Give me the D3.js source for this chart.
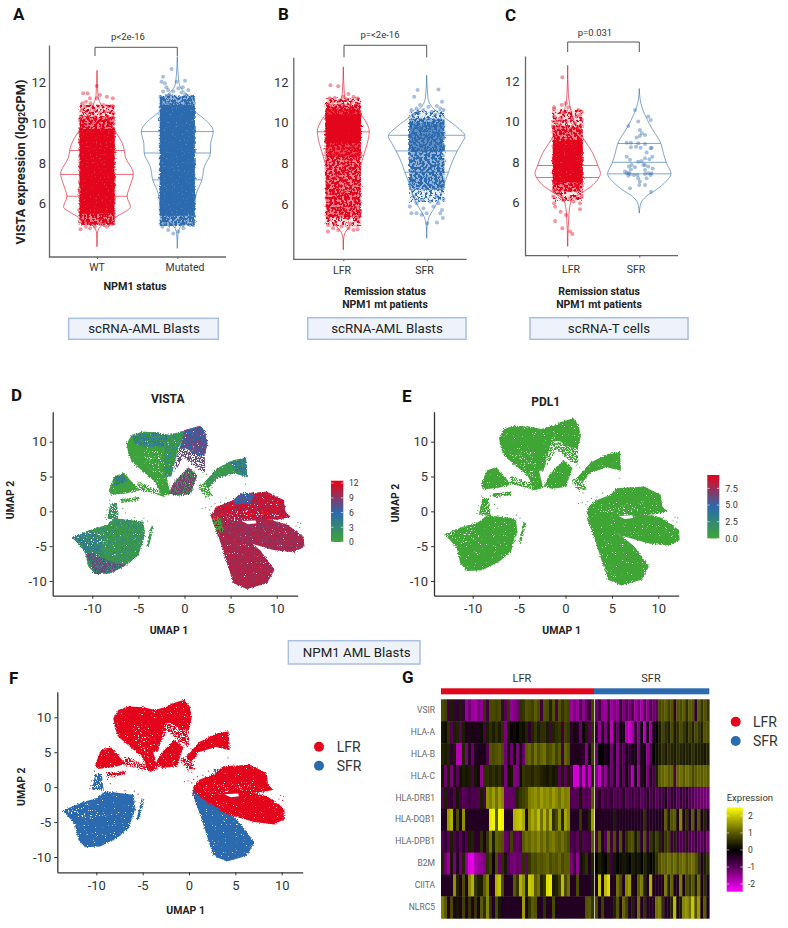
<!DOCTYPE html>
<html><head><meta charset="utf-8">
<script src="https://cdn.jsdelivr.net/npm/d3@7/dist/d3.min.js"></script>
<style>html,body{margin:0;padding:0;background:#fff}svg{display:block}text{font-family:Roboto,sans-serif}</style>
</head><body><svg id="c" width="788" height="928"></svg>
<script>
// ---------- violin densities [value, relative width]
const vioAWT=[[12.6,0],[11.3,.03],[10.8,.14],[10.3,.28],[9.73,.46],[8.83,.73],[8.33,.78],[7.47,1],[6.93,.92],[6.35,.83],[5.85,.92],[5.52,.69],[5.28,.46],[4.86,.09],[4.53,.01],[3.87,0]];
const vioAMut=[[13.28,0],[11.96,.05],[11.55,.18],[11.3,.35],[10.56,.5],[10.15,.78],[9.57,1],[8.99,.93],[8.51,.92],[7.83,.75],[7.16,.68],[6.51,.53],[5.85,.48],[5.36,.41],[4.86,.09],[4.53,.02],[3.79,0]];
const vioBLFR=[[12.75,0],[11.44,.04],[10.95,.19],[10.46,.64],[10.13,.83],[9.56,1],[8.98,.92],[8.41,.79],[7.84,.67],[7.18,.64],[6.2,.64],[5.38,.58],[4.97,.32],[4.56,.06],[4.23,.01],[3.74,0]];
const vioBSFR=[[12.34,0],[11.28,.03],[10.79,.13],[10.3,.43],[9.8,.78],[9.34,1],[8.98,.91],[8.61,.8],[8,.65],[7.56,.57],[6.85,.43],[6.36,.35],[5.87,.22],[5.38,.07],[4.89,.01],[4.31,0]];
const vioCLFR=[[12.79,0],[11.39,.02],[10.57,.1],[9.75,.26],[9.1,.51],[8.44,.77],[7.84,.92],[7.46,1],[7.21,.94],[6.8,.71],[6.48,.41],[6.15,.12],[5.49,.04],[3.85,0]];
const vioCSFR=[[11.64,0],[11.07,.03],[10.41,.16],[9.75,.37],[8.93,.68],[8.44,.76],[7.95,.86],[7.43,1],[7.05,.84],[6.64,.53],[6.31,.21],[5.98,.05],[5.49,0]];
// quartiles
const quAWT=[8.63,7.45,6.37], quAMut=[9.57,8.51,7.18], quBLFR=[9.55,8.4], quBSFR=[9.38,8.61,7.56], quCLFR=[7.84,7.25], quCSFR=[8.93,8.0,7.43];
// dense part of each strip [from, to, density]
const bandAWT=[[4.95,5.5,1],[5.5,9.7,2],[9.7,10.3,1],[10.3,10.9,0]];
const bandAMut=[[4.9,5.4,1],[5.4,10.9,2],[10.9,11.35,1]];
const bandBLFR=[[4.9,5.3,0],[5.3,10.9,1],[8.3,10.7,1],[9,10.4,2],[10.9,11.2,0]];
const bandBSFR=[[6.7,10.2,1],[8.6,10,1],[10.2,10.6,0],[6.1,6.7,0]];
const bandCLFR=[[7,9.1,2],[6.55,7,1],[9.1,9.8,1],[9.8,10.6,0],[6.1,6.55,0]];
const bandCSFR=[];
// individually visible cells [jitter -1..1, value]
const ptsAWT=[[-.79,11.47],[-.54,11.47],[-.4,11.22],[-.02,11.83],[.17,11.38],[.56,11.3],[.9,11.22],[-.83,10.97],[-.63,11.05],[-.37,10.97],[-.15,10.64],[.08,10.81],[.37,10.89],[.65,10.81],[.85,10.81],[-.88,10.64],[-.6,10.56],[-.31,10.48],[.17,10.48],[.46,10.56],[.75,10.56],[.94,10.48],[-.02,11.22],[-.69,10.81],[-.88,10.31],[-.5,10.31],[-.12,10.31],[.6,10.31],[.9,10.28],[-.94,4.73],[-.63,4.86],[-.4,4.78],[-.12,4.86],[.17,5],[.56,4.86],[.85,5],[-.79,5.03],[-.5,5.06],[.37,5.06],[-.25,5]];
const ptsAMut=[[-.33,12.67],[-.81,12.29],[-.9,12.04],[-.71,11.96],[-.04,12.04],[.44,12.09],[-.96,11.3],[-.52,11.63],[-.23,11.55],[.25,11.5],[.63,11.63],[.83,11.3],[-.81,11.55],[-.42,11.38],[.06,11.71],[.44,11.38],[-.62,11.76],[.31,11.76],[-.85,4.86],[-.52,4.7],[-.23,4.53],[.06,4.62],[.35,4.78],[.73,4.95],[-.71,5.03],[-.33,5],[.25,5.03],[.92,5.06]];
const ptsBLFR=[[-.73,11.84],[-.29,11.8],[.29,11.41],[.58,11.28],[.81,11.2],[-.77,11.2],[-.48,11.23],[0,11.28],[-.19,11.11],[-.87,10.95],[-.58,11.03],[.48,11.03],[.77,10.95],[.19,11.15],[-.87,4.64],[-.58,4.8],[-.29,4.72],[-.1,4.89],[.29,4.8],[.58,4.72],[.81,4.75],[-.87,4.97],[-.48,5.05],[.38,5.02],[.87,5.13]];
const ptsBSFR=[[-.52,11.61],[.67,11.64],[-.71,11.28],[.87,11.03],[-.38,10.87],[.1,10.79],[.58,10.82],[-.87,10.62],[-.58,10.7],[-.19,10.62],[.29,10.54],[.77,10.7],[.96,10.62],[-.77,10.38],[-.48,10.46],[.48,10.38],[-.87,5.54],[-.58,5.54],[-.29,5.46],[0,5.54],[-.96,5.87],[-.58,6.03],[-.19,5.79],[.38,5.87],[.67,6.03],[.96,6.2],[.77,5.54],[.92,5.3],[.04,5.05],[.58,5.08],[-.73,6.36],[-.29,6.2],[.19,6.11],[.58,6.36],[.87,5.7]];
const ptsCLFR=[[-.36,12.2],[-.13,10.91],[-.4,10.83],[-.91,10.72],[-.91,10.62],[.04,10.72],[.71,10.58],[.93,10.5],[.82,10.34],[-.89,10.26],[-.29,10.42],[.16,10.42],[-.18,10.5],[.27,10.17],[.6,10.26],[.93,10.09],[-.96,10.01],[-.73,10.01],[-.51,10.17],[-.96,9.76],[-.62,9.84],[-.07,10.01],[.49,9.93],[.87,9.84],[-.91,5.98],[-.84,5.81],[-.47,5.56],[-.11,5.4],[-.84,5.1],[-.36,4.74],[.16,4.58],[.31,4.46],[.82,5.68],[.82,5.98],[.38,6.06],[-.29,6.14],[-.4,6.3],[.16,6.22],[.6,6.22],[-.96,6.3],[-.62,6.47],[.93,6.3]];
const ptsCSFR=[[-.29,10.58],[-.07,10.01],[-.73,9.79],[.6,10.26],[.76,10.09],[.04,9.6],[-.18,9.23],[.04,9.3],[.16,9.43],[.38,9.35],[-.84,8.97],[-.56,8.97],[-.07,8.94],[.38,8.9],[.82,8.72],[-.56,8.74],[-.22,8.77],[.09,8.72],[.87,8.28],[.76,8.69],[.49,8.48],[-.84,8.28],[-.62,8.12],[-.07,8.03],[.16,8.07],[.38,8.2],[.67,8.15],[.27,7.87],[.38,7.87],[.6,7.79],[-.51,7.87],[-.69,7.79],[-.29,7.75],[-.56,7.65],[-.71,7.49],[-.84,7.46],[-.96,7.54],[-.62,7.42],[-.36,7.37],[-.13,7.37],[.38,7.62],[.38,7.42],[.6,7.46],[.76,7.37],[.89,7.7],[.82,7.46],[-.73,7.33],[.04,7.05],[0,6.88],[.38,6.88],[-.62,6.72],[.78,6.55],[-.07,7.21],[.49,7.21]];
const catsA=["WT","Mutated"], catsB=["LFR","SFR"], catsC=["LFR","SFR"];
const yTicks=[6,8,10,12];
const pLabels=["p<2e-16","p=<2e-16","p=0.031"];
// ---------- UMAP cluster outlines (panel D frame)
const polyT1=[[-6.27,9.76],[-5.72,10.96],[-4.64,11.44],[-3.01,11.34],[-1.74,10.96],[-1.92,8.09],[-2.0,5.22],[-1.5,2.5],[-2.4,2.2],[-3.19,4.26],[-4.46,5.69],[-5.72,7.13],[-6.09,8.33]];
const polyT1rim=[[-5.72,10.96],[-3.01,11.34],[-1.74,10.96],[-2.28,9.28],[-4.46,9.28],[-5.54,9.76]];
const polyT2=[[-1.74,10.96],[-.47,11.44],[.25,11.67],[-.65,9.04],[-1.45,4.98],[-2.1,4.98],[-2.28,7.13],[-2.1,9.52]];
const polyT3=[[.07,11.67],[1.7,12.3],[2.25,11.44],[2.5,9.76],[2.2,8],[1.34,8.1],[.25,9.0],[-.55,9.0]];
const polyT3s=[[-.65,9.1],[2.2,8.2],[2.24,5.6],[1.34,6.2],[-.11,7.85],[-1.1,5.5]];
const polyM=[[-1.1,4.26],[.43,6.3],[1.4,5.22],[.7,2.5],[-.83,2.25],[-1.7,2.6]];
const polyLink=[[-5,4.26],[-2.1,2.82],[-2.1,2.1],[-5,3.06]];
const polyLS=[[-8.2,3.06],[-7.6,5.05],[-6.55,5.55],[-5.9,4.5],[-4.9,3.06],[-6.27,2.6],[-8,2.35]];
const polyLStop=[[-7.54,4.98],[-6.63,5.45],[-6.2,4.35],[-7.72,3.54]];
const polyTail=[[-7,1.75],[-4.82,2.1],[-5,1.55],[-6.81,1.2]];
const polyStem=[[-8,1.2],[-7.3,1.2],[-7.1,-1.1],[-8.4,-1.1]];
const polyLL=[[-12.17,-3.78],[-10.25,-2.68],[-8.44,-1.96],[-7.54,-1],[-4.46,-1.48],[-4.28,-3.4],[-5,-6.27],[-6.27,-7.7],[-8.08,-8.9],[-9.71,-9],[-10.43,-7.94],[-10.8,-5.79],[-11.52,-4.59]];
const polyLLlow=[[-10.8,-5.79],[-9.71,-9],[-8.08,-8.9],[-6.27,-7.7],[-7.54,-7.46],[-9.17,-6.5]];
const polyLLleft=[[-12.17,-3.78],[-11.52,-4.59],[-10.8,-5.79],[-9.17,-6.5],[-8.99,-3.88],[-10.25,-2.68]];
const polySliver=[[-4.15,-5.07],[-3.6,-2],[-3.3,-2.2],[-3.85,-4.93]];
const polyUR=[[2.07,4.02],[3.51,6.17],[5.33,7.37],[6.67,7.7],[6.78,4.98],[5.33,5.45],[3.51,4.74],[2.61,3.3]];
const polyURtop=[[4.96,7.03],[6.67,7.7],[6.78,4.98],[5.51,5.69]];
const polyURs=[[1.52,3.78],[2.43,4.02],[3.15,2.25],[2.07,2.25]];
const polyRU=[[2.79,-.53],[3.51,.67],[5.33,1.63],[6.05,2.58],[8.95,2.82],[10.76,1.63],[10.94,-.05],[11.49,-.77],[10.04,-1.2],[7.5,-1.2],[5.33,-1.6],[3.51,-2.44]];
const polyRUtop=[[5.33,1.63],[6.05,2.58],[7.68,2.49],[7.14,1.15],[5.33,1]];
const polyRMid=[[2.97,-1.0],[5.33,-1.0],[8.95,-1.1],[11.12,-1.9],[12.93,-3.64],[13,-5.07],[11.85,-5.89],[9.67,-5.55],[7.14,-4.59],[4.96,-3.4],[3.51,-2.92]];
const polyRB=[[2.97,-1.2],[3.51,-1.9],[4.96,-2.6],[6.78,-4.0],[8.2,-5.6],[9.75,-8.42],[8.95,-10.33],[6.78,-11.15],[5.33,-10.33],[4.67,-7.7],[3.88,-4.35]];
const polyRleft=[[2.79,-.53],[3.88,-.77],[4.31,-2.92],[3.51,-2.92]];
const polyFBlue=[[5.03,2.23],[7.9,1.75],[7.18,.55],[5.4,1.03]];
const polyFBlue2=[[6.6,-1.4],[8.4,-1.2],[8.2,-2.2],[7,-2.4]];
const polyFBlue3=[[3.1,-1],[4.7,-2.7],[6.2,-3.7],[4.2,-5]];
const holeR=[[6.2,-1.4],[7.7,-1.3],[7.8,-1.7],[6.9,-1.85]];
const flecksT=[[-4.46,8.56],[-2.28,8.56],[-2.28,3.78],[-3.37,4.74]];
const flecksR=[[3.88,-.53],[7.5,.43],[10.76,-.77],[5.33,-1.5]];
const flecksL=[[-12,-3.8],[-9,-2.6],[-8,-4.5],[-10,-5]];
// region table: polygon, cluster, density, VISTA base, VISTA mix, NPM1 group, panels
const regions=[
 [polyT3s,"T3",0,8,8,"L","DEF"],[polyLink,"T1",0,0,0,"L","DEF"],[polyTail,"LS",1,0,0,"L","DEF"],[polyStem,"ST",1,2,5,"S","DEF"],[polySliver,"LL",1,1,8,"S","DEF"],[polyURs,"UR",0,0,0,"L","DEF"],
 [polyT1,"T1",2,.5,0,"L","DEF"],[polyT2,"T1",2,3,.3,"L","DEF"],[polyT3,"T3",2,8,6,"L","DEF"],[polyM,"M",2,8.5,1.5,"L","DEF"],[polyLS,"LS",2,0,1,"L","DEF"],[polyLL,"LL",2,1,3,"S","DEF"],[polyUR,"UR",2,1,2,"L","DEF"],
 [polyRB,"RB",2,9.8,10.6,"S","DEF"],[polyRU,"RU",2,10,12,"L","DEF"],[polyRMid,"RM",2,10.3,9,"L","DEF"],
 [polyT1rim,"T1",2,4.5,1,"L","D"],[polyLStop,"LS",2,5,2,"L","D"],[polyLLleft,"LL",2,4.5,2,"S","D"],[polyLLlow,"LL",2,8,3,"S","D"],[polyURtop,"UR",2,5,2,"L","D"],[polyRUtop,"RU",2,6,8,"L","D"],[polyRleft,"RM",2,.5,11,"L","D"],
 [polyFBlue,"RU",1,0,0,"S","F"],[polyFBlue2,"RU",0,0,0,"S","F"],[polyFBlue3,"RB",2,0,0,"S","F"]
];
const clusterShiftE={T1:[-.9,.85],T3:[-.85,1.05],M:[-.65,1],LS:[-.9,.8],ST:[-.95,.6],LL:[-.9,.45],UR:[-.8,.85],RU:[-.5,.75],RM:[-.7,.95],RB:[-.75,.5]};
const clusterShiftF={T1:[-1.9,.1],T3:[-2.2,.2],M:[-2,.5],LS:[-1.9,.25],ST:[-2.1,.7],LL:[-1.5,.4],UR:[-2.4,.3],RU:[-2.4,.4],RM:[-2.65,.55],RB:[-2.7,.5]};
const clusterShiftD={T1:[0,0],T3:[0,0],M:[0,0],LS:[0,0],ST:[0,0],LL:[0,0],UR:[0,0],RU:[0,0],RM:[0,0],RB:[0,0]};
const strayCells=[[1.6,3.2,"UR"],[1.9,2.9,"UR"],[2.3,2,"UR"],[2.7,1.8,"UR"],[3,3.4,"UR"],[2.9,.7,"RU"],[2.3,.5,"RU"],[1.9,.4,"RU"],[2.7,.2,"RU"],[3.3,1.1,"RU"],[3.9,1.3,"RU"],[4.5,1.9,"RU"],[4.2,.9,"RU"],[12.3,-1.6,"RU"],[12.6,-1.7,"RU"],[12.5,-2.3,"RU"],[12.1,-2.1,"RU"],[6.6,3.9,"UR"],[-8.5,-.5,"ST"],[-8.6,-.9,"ST"],[-8.4,.2,"ST"],[-8.1,1.6,"ST"],[-6.7,.4,"ST"],[-6.4,-.2,"ST"],[-5.4,-.9,"LL"],[-4.4,-1,"LL"],[-4,-1.4,"LL"],[2,5.6,"T3"],[2.4,5.3,"T3"]];
const pdlRedCells=[[-8.9,2],[-8.6,1.1],[-7.3,-4.8],[-7.3,-7.3],[6.6,-6.9],[8,-7.4],[4.9,7.4],[-8.1,2.2],[-1.4,11.8]];
const vistaDomain=[0,6,12], pdlDomain=[0,4.7,9.4], vistaTicks=[0,3,6,9,12], pdlTicks=[0,2.5,5,7.5], umapTicks=[-10,-5,0,5,10];
// ---------- heatmap
const genes=["VSIR","HLA-A","HLA-B","HLA-C","HLA-DRB1","HLA-DQB1","HLA-DPB1","B2M","CIITA","NLRC5"];
const heatLFR=[
[.8,.7,-.7,.3,-.6,-.5,.3,-.6,-1.6,-1.2,-1.6,-1.7,-1.2,-1.5,.6,-.7,.8,.8,.7,.8,.3,-1,.6,-1.5,-1.4,-1.2,.5,.6,.9,.8,.7,1,.8,-.7,.9,.8,.4,.9,-.8,.9,.6,.8,.7,-1.6,-1.3,-1.6,-.8,-1.5,-1,-.7,.7],
[.2,.1,.5,-.9,.3,.4,-1,.3,-.3,-.4,.1,-.3,-.4,.1,-.8,.3,.5,.3,.5,.3,.5,-1.3,.3,-.1,.1,0,.2,.1,.4,-.5,.4,.6,.3,.5,.5,.3,-.8,.4,.5,.6,-.7,.7,.6,-.5,.1,-.4,-1.1,-.1,.3,-.9,.5],
[.4,.3,.4,-.5,.3,-1.8,-1.8,.4,-1.3,-.4,-1.1,-.4,-.3,-.3,-.2,-.9,.9,.8,.9,1,.8,-1.2,-.3,-1.2,.1,-1.3,-.3,-1.1,1,1.1,.8,1.2,.9,1.1,1.2,.8,.9,1.1,.7,1,-.7,1.1,.9,-.4,-.4,-.3,-.4,-.5,-1.4,-.2,.7],
[.2,-1.2,.3,-1.3,.2,-1,.1,.3,.2,.3,-.8,.2,.1,-1.5,.5,.5,.4,.5,.4,.5,.3,-1.3,.1,.2,-1.4,-1.3,.1,.6,.5,.5,.4,.6,.5,.4,.3,.2,.4,.2,.3,-1,.3,-1,.3,-.8,-2.1,-2.1,-.8,-2,-.8,-1.9,.4],
[-.9,.3,-.7,-.5,-.9,.2,-.7,-1,-.9,-.7,-.9,-.8,-.9,.3,-.8,1.5,1.3,1.6,1.2,1.6,1.4,-1.1,-1.1,-1.1,-1,.4,.6,.7,.8,1.3,1.4,1.5,1.3,1.6,1.4,1.5,1.3,1.6,1.4,1.2,1.5,1.3,1.4,-.9,-1,-.9,.2,-1,-.9,-1,1],
[-.4,-.3,1.6,1.8,-.3,.8,-.3,1.5,-.4,-.4,-.4,-.4,-.4,-.4,-.4,-.4,2.3,2.4,1,2.5,2.4,-.4,-.4,-.4,1.8,1.9,2,1.7,-.3,1.4,1.7,1.5,1.9,1.2,1.8,1.2,1.8,.5,.8,1.5,.4,1.7,1.4,-.4,-.4,-.4,.6,-.4,-.4,.4,1.6],
[-.9,-.6,-1,.3,-.9,-.6,-1,-.5,-.9,.3,.4,-.5,-.5,.5,-.4,.6,1.2,.3,1.1,1,.9,-1.1,-.9,.7,-1,-1.1,-.8,1,1.2,1.1,1.3,1.2,1.4,1.1,1.3,1,1.2,1.3,1.1,1,1.2,1,.8,-.9,-.7,-1,.3,-.9,-.8,-.7,1],
[.4,-1.2,-1.6,.2,-1.3,-.4,-1.2,.4,-1.5,-2.2,-2.3,-1.7,-1.6,-1.5,-1.3,.5,.7,-.1,.8,-1.1,.5,.2,-1,-1.2,-1.3,-1.1,-1.2,.5,-1.1,.6,.9,.8,1,.9,1,1.1,.8,1,.9,1.1,.8,1,1,-1.3,-.6,-1.5,-.3,.3,.5,-.3,.4],
[-.4,-.4,-.4,-.4,1.5,.4,-.4,.8,-.4,1.4,1.8,.6,.3,.3,1,1.4,-.4,-.4,1.8,2,.8,-.4,-.4,-.4,1,.6,1.8,1.5,.4,2,1.9,1,1.2,.4,.6,2.2,2.3,.3,.4,.7,1.9,.8,1.2,-.4,-.4,.8,-.4,-.4,-.4,-.4,.3],
[1.3,1,-.4,.8,-.4,.2,-.4,.7,-.4,.6,-.4,.6,-.3,1,.5,1.4,.5,-.4,.8,.2,-.4,-.4,-.4,-.4,-.4,-.4,-.4,1.6,-.4,.6,1,.9,-.4,-.4,.5,-.4,-.4,.8,-.4,-.4,-.4,-.4,-.4,-.4,-.4,-.4,-.4,-.4,.9,1,.6]];
const heatSFR=[
[-1.2,-.8,-1.5,-1.6,-.7,-1.6,-1.3,-1.5,-.6,-1.3,-.9,-1.3,-.8,-1.6,-1.2,-1.7,-.9,-1.5,-.8,-1.2,-1,.8,.9,1,.7,.9,-.6,.9,.8,1,.5,1,.9,-.5,1,.6,.9,.6],
[-.6,-1.5,-.3,-1.3,-.2,-1.9,-.2,-1.1,-.1,-.3,-1.7,-2,-1.6,-.6,-1.4,-.2,-1.9,-.3,-1.6,-.3,.05,.3,.7,.5,.3,.8,.3,.5,.8,.6,.3,.7,.4,.8,.6,.4,.9,.8],
[-1.2,0,.05,-.3,-.1,-1.2,-.1,-1.4,-.4,-1,-.3,-.6,-.2,-.3,-1.3,-.2,-.1,-1.5,-.9,0,.1,.3,.5,.3,.5,.4,.3,.5,.4,.3,.4,.3,.5,.3,.4,.3,.2,.4],
[-1.4,-2,-.8,-1.5,-.5,-1.2,-.2,-1.4,-.2,-1,-.1,-.9,-1.8,-.2,-1.6,-.3,-.1,-1.3,-.3,-.8,.3,1,1.1,1.2,1,1.1,-.9,1.1,1.2,1,1.2,1.1,.8,1,1.1,1,1.1,1],
[-.9,-.5,-1,-.7,-.9,-.6,-1,-.8,-.9,-.5,-1,-.8,-.7,-.9,-.6,-1,-.8,-.5,-.9,-.6,-1,-.7,-.8,-.4,-1,-.6,-.5,-1,-.6,-.8,-.5,-.9,-.9,-1.1,-1.1,-1.2,-1.2,-1.3],
[-.4,-.4,-.4,-.4,-.4,-.4,.3,-.4,-.4,-.4,-.4,-.4,-.4,-.4,-.4,-.4,.5,-.4,-.4,-.4,-.4,-.4,-.4,1,.3,.9,1,-.3,1.4,-.3,.5,-.3,1,-.3,.9,-.3,.4,-.3],
[-.8,1,-.4,-.9,1,-.7,.8,-.5,.9,-.4,.5,.8,.9,.3,.7,-.4,.9,-.6,.6,.3,.7,.4,-.5,.6,.7,-.6,.4,-.7,-.9,-.8,.3,-.9,-1,-.7,-1,-1,-.7,-1.3],
[.05,.3,.1,.05,.4,-.6,.2,.05,.1,.2,.1,.05,.3,.1,.2,.05,.4,.1,.05,.1,.5,.9,1.1,1,1.2,1,1.2,.9,1.1,1.2,.9,1.1,1.2,.9,.5,-.3,.3,.5],
[-.4,2,-.3,1.9,2.2,-.3,-.4,1.2,.8,-.4,1.4,1.6,-.4,-.2,1,1.3,.4,-.3,1.8,-.4,-.4,-.4,-.4,1.3,.4,1.1,-.4,-.4,1.3,-.3,.8,.6,1,.4,1.2,-.3,.5,-.3],
[.8,-.3,.7,-.4,-.4,-.4,.4,.9,-.4,1.1,.7,-.4,.4,-.4,1.2,-.4,.5,-.4,-.4,-.4,1.2,1.3,.5,-.4,-.4,.4,1.9,-.3,.3,1.4,1.5,1.2,2,.9,1.6,-.3,1,-.3]];
const heatTicks=[-2,-1,0,1,2];

// ---------- page setup
const RED="#E3051B", BLUE="#2B6AAE", GREEN="#3FA535";
const svg=d3.select("#c"), defs=svg.append("defs");
function noiseFilter(id,seed,freq,disp,cut,blur){
  const f=defs.append("filter").attr("id",id).attr("filterUnits","userSpaceOnUse").attr("x",0).attr("y",0).attr("width",788).attr("height",928).attr("color-interpolation-filters","sRGB");
  f.append("feTurbulence").attr("type","fractalNoise").attr("baseFrequency",freq).attr("numOctaves",2).attr("seed",seed).attr("result","n");
  f.append("feDisplacementMap").attr("in","SourceGraphic").attr("in2","n").attr("scale",disp).attr("xChannelSelector","R").attr("yChannelSelector","G").attr("result","d");
  f.append("feColorMatrix").attr("in","n").attr("type","matrix").attr("values",`0 0 0 0 0 0 0 0 0 0 0 0 0 0 0 14 0 0 0 ${-cut*14}`).attr("result","m");
  f.append("feComposite").attr("in","d").attr("in2","m").attr("operator","in").attr("result","c");
  f.append("feGaussianBlur").attr("in","c").attr("stdDeviation",blur);
}
noiseFilter("u0",5,.8,5,.42,.3);
noiseFilter("u1",6,.8,4,.36,.3);
noiseFilter("u2",7,.9,3.5,.22,.25);
noiseFilter("uMix",11,1.2,2,.5,.4);
noiseFilter("uWhite",13,.7,3,.64,.3);
noiseFilter("s0",21,.4,3,.52,.3);
noiseFilter("s1",22,.4,3,.44,.3);
noiseFilter("s2",23,.5,3,.25,.2);
noiseFilter("rough",24,.35,7,-1,.4);
const soft=defs.append("filter").attr("id","soft"); soft.append("feGaussianBlur").attr("stdDeviation",.35);
const heatSoft=defs.append("filter").attr("id","heatSoft"); heatSoft.append("feGaussianBlur").attr("stdDeviation",.5);

function txt(g,x,y,s,o={}){
  return g.append("text").attr("x",x).attr("y",y).attr("text-anchor",o.a||"middle").attr("dominant-baseline","central")
    .attr("font-size",o.s||11).attr("font-weight",o.w||400).attr("fill",o.c||"#222").attr("font-family",o.f||"Roboto,sans-serif").text(s);
}
function box(x0,x1,y0,y1,label,cx){
  svg.append("rect").attr("x",x0).attr("y",y0).attr("width",x1-x0).attr("height",y1-y0).attr("fill","#EEF3FB").attr("stroke","#A9BFE4").attr("stroke-width",1.5);
  txt(svg,cx,(y0+y1)/2,label,{s:13.3,c:"#222"});
}
[["A",13,14],["B",278,14],["C",505,15],["D",11,395],["E",402,396],["F",9,678],["G",402,677]].forEach(d=>txt(svg,d[1],d[2],d[0],{a:"start",s:17,w:700,c:"#111"}));

// ---------- violin panels
const violinPanels=[
 {cats:catsA,xs:[97,177.3],lab:[97,185],labY:267,left:49,right:226,top:45,bot:257,y8:163.3,k:20.2,labX:46,
  br:[95,177.3,47.3,56],p:[128,36.7,pLabels[0]],
  v:[[vioAWT,quAWT,bandAWT,ptsAWT,36.3,17.5,RED],[vioAMut,quAMut,bandAMut,ptsAMut,36,17.5,BLUE]]},
 {cats:catsB,xs:[343.3,426.7],lab:[342,424.5],labY:270,left:293.3,right:466.7,top:57.3,bot:259.3,y8:163.3,k:20.3,labX:288.5,
  br:[344,426.7,45.3,57.3],p:[380,34,pLabels[1]],
  v:[[vioBLFR,quBLFR,bandBLFR,ptsBLFR,26,17.6,RED],[vioBSFR,quBSFR,bandBSFR,ptsBSFR,38.3,17.6,BLUE]]},
 {cats:catsC,xs:[567.7,639.3],lab:[571,636],labY:269,left:525,right:678,top:56,bot:255.7,y8:162.3,k:20.25,labX:519.5,
  br:[567.7,639.3,42,52],p:[595,32.7,pLabels[2]],
  v:[[vioCLFR,quCLFR,bandCLFR,ptsCLFR,32.7,15,RED],[vioCSFR,quCSFR,bandCSFR,ptsCSFR,31.7,15,BLUE]]}
];
const underLayer=svg.append("g").attr("filter","url(#rough)");
const bandLayers=[svg.append("g").attr("filter","url(#s0)"),svg.append("g").attr("filter","url(#s1)"),svg.append("g").attr("filter","url(#s2)")];
const underOpacity=[.12,.5,.8];
violinPanels.forEach(p=>{
  const y=d3.scaleLinear().range([p.bot,p.top]);
  y.domain([8-(p.bot-p.y8)/p.k,8+(p.y8-p.top)/p.k]);
  const gx=svg.append("g").attr("transform",`translate(0,${p.bot})`);
  const xp=d3.scalePoint().domain(p.cats).range(p.xs);
  gx.call(d3.axisBottom(xp).tickSize(2).tickSizeOuter(0).tickFormat(""));
  gx.select(".domain").attr("d",`M${p.left},0H${p.right}`).attr("stroke","#666").attr("stroke-width",1.3);
  gx.selectAll("line").attr("stroke","#666");
  p.cats.forEach((c,i)=>txt(svg,p.lab[i],p.labY,c,{s:10.5,c:"#333"}));
  const gy=svg.append("g").attr("transform",`translate(${p.left},0)`);
  gy.call(d3.axisLeft(y).tickValues(yTicks).tickSize(0).tickPadding(p.left-p.labX).tickFormat(d3.format("d")));
  gy.select(".domain").attr("stroke","#666").attr("stroke-width",1.3);
  gy.selectAll("text").attr("font-size",13).attr("fill","#333").attr("font-family","Roboto,sans-serif");
  svg.append("path").attr("d",`M${p.br[0]},${p.br[3]}V${p.br[2]}H${p.br[1]}V${p.br[3]}`).attr("fill","none").attr("stroke","#555").attr("stroke-width",1);
  txt(svg,p.p[0],p.p[1],p.p[2],{s:9.5,c:"#333"});
  p.v.forEach((d,i)=>{
    const [vio,qu,bands,pts,wPx,hw,col]=d, cx=p.xs[i];
    const w=d3.scaleLinear().domain([0,1]).range([0,wPx]);
    const wAt=d3.scaleLinear().domain(vio.map(e=>e[0])).range(vio.map(e=>e[1]));
    svg.selectAll(null).data(qu).enter().append("line")
      .attr("x1",q=>cx-w(wAt(q))).attr("x2",q=>cx+w(wAt(q))).attr("y1",q=>y(q)).attr("y2",q=>y(q))
      .attr("stroke",col).attr("stroke-opacity",.6).attr("stroke-width",1);
    bands.forEach(b=>{
      const rr=g=>g.append("rect").attr("x",cx-hw).attr("width",2*hw).attr("y",y(b[1])).attr("height",y(b[0])-y(b[1])).attr("fill",col);
      rr(underLayer).attr("fill-opacity",underOpacity[b[2]]);
      rr(bandLayers[b[2]]);
    });
    const jx=d3.scaleLinear().domain([-1,1]).range([cx-hw,cx+hw]);
    svg.selectAll(null).data(pts).enter().append("circle").attr("cx",e=>jx(e[0])).attr("cy",e=>y(e[1])).attr("r",2)
      .attr("fill",col).attr("fill-opacity",.42);
    const area=d3.area().y(e=>y(e[0])).x0(e=>cx-w(e[1])).x1(e=>cx+w(e[1])).curve(d3.curveMonotoneY);
    svg.append("path").attr("class","vio").attr("d",area(vio)).attr("fill","none").attr("stroke",col).attr("stroke-opacity",.6).attr("stroke-width",1);
  });
});
underLayer.raise(); bandLayers.forEach(g=>g.raise());
svg.selectAll("path.vio").raise();
const yt=svg.append("text").attr("transform","translate(20,162) rotate(-90)").attr("text-anchor","middle").attr("dominant-baseline","central").attr("font-size",12.8).attr("font-weight",700).attr("fill","#222");
yt.append("tspan").text("VISTA expression (log");
yt.append("tspan").attr("font-size",8.5).attr("dy",2).text("2");
yt.append("tspan").attr("dy",-2).text("CPM)");
txt(svg,135,286,"NPM1 status",{s:10.8,w:700});
[[385,291,304],[599,291,304]].forEach(d=>{txt(svg,d[0],d[1],"Remission status",{s:10.5,w:700});txt(svg,d[0],d[2],"NPM1 mt patients",{s:10.5,w:700});});
box(68.7,218.3,318.3,339.3,"scRNA-AML Blasts",144);
box(307.7,466,317.7,339.3,"scRNA-AML Blasts",387);
box(530,688,317.7,339.3,"scRNA-T cells",609);
box(288.3,420,640.7,664,"NPM1 AML Blasts",356.7);

// ---------- UMAP panels
const vistaColor=d3.scaleLinear().domain(vistaDomain).range([GREEN,BLUE,RED]);
const pdlColor=d3.scaleLinear().domain(pdlDomain).range([GREEN,BLUE,RED]);
const groupColor=d3.scaleOrdinal().domain(["L","S"]).range([RED,BLUE]);
const umapPanels=[
 {id:"D",x0:[92.3,276.7],y0:[581,441.7],l:52.7,r:297.7,t:411.7,b:595.7,shift:clusterShiftD,base:r=>vistaColor(r[3]),mix:r=>vistaColor(r[4]),title:"VISTA",tx:167.7,ty:399,ux:169,uy:630.7,vx:10,vy:500},
 {id:"E",x0:[472.7,658.3],y0:[581,441.7],l:434,r:678.7,t:411.7,b:595.7,shift:clusterShiftE,base:()=>pdlColor(0),mix:()=>pdlColor(0),title:"PDL1",tx:545.7,ty:401.5,ux:561.7,uy:630.7,vx:395,vy:503},
 {id:"F",x0:[96.3,281.7],y0:[857,717.3],l:57.3,r:302.7,t:691.7,b:872.3,shift:clusterShiftF,base:r=>groupColor(r[5]),mix:r=>groupColor(r[5]),title:null,ux:185.7,uy:910.7,vx:21,vy:786.7}
];
umapPanels.forEach(p=>{
  const bx=d3.scaleLinear().domain([-10,10]).range(p.x0), by=d3.scaleLinear().domain([-10,10]).range(p.y0);
  const x=d3.scaleLinear().domain([bx.invert(p.l),bx.invert(p.r)]).range([p.l,p.r]);
  const y=d3.scaleLinear().domain([by.invert(p.b),by.invert(p.t)]).range([p.b,p.t]);
  const line=d3.line().x(e=>e[0]).y(e=>e[1]);
  const path=(poly,cl)=>{const s=p.shift[cl];return line(poly.map(e=>[x(e[0]+s[0]),y(e[1]+s[1])]))+"Z";};
  const rows=regions.filter(r=>r[6].includes(p.id));
  [0,1,2].forEach(dn=>{
    svg.append("g").attr("filter",`url(#u${dn})`).selectAll("path").data(rows.filter(r=>r[2]===dn)).enter().append("path")
      .attr("d",r=>path(r[0],r[1])).attr("fill",p.base);
  });
  if(p.id==="D"){
    svg.append("g").attr("filter","url(#uMix)").selectAll("path").data(rows.filter(r=>r[2]===2&&r[3]!==r[4])).enter().append("path")
      .attr("d",r=>path(r[0],r[1])).attr("fill",p.mix);
  }
  svg.append("g").attr("filter","url(#uWhite)").selectAll("path").data([[flecksT,"T1"],[flecksR,"RU"],[flecksL,"LL"]]).enter().append("path")
    .attr("d",r=>path(r[0],r[1])).attr("fill","#fff");
  svg.append("path").attr("d",path(holeR,"RU")).attr("fill","#fff").attr("filter","url(#soft)");
  const strayColor=p.id==="D"?vistaColor(1):(p.id==="E"?pdlColor(0):RED);
  svg.selectAll(null).data(strayCells).enter().append("circle")
    .attr("cx",e=>x(e[0]+p.shift[e[2]][0])).attr("cy",e=>y(e[1]+p.shift[e[2]][1])).attr("r",.6).attr("fill",strayColor);
  if(p.id==="E") svg.selectAll(null).data(pdlRedCells).enter().append("circle").attr("cx",e=>x(e[0])).attr("cy",e=>y(e[1])).attr("r",.7).attr("fill","#B5455A");
  const gx=svg.append("g").attr("transform",`translate(0,${p.b})`).call(d3.axisBottom(x).tickValues(umapTicks).tickSize(3).tickSizeOuter(0).tickPadding(5).tickFormat(d3.format("d")));
  const gy=svg.append("g").attr("transform",`translate(${p.l},0)`).call(d3.axisLeft(y).tickValues(umapTicks).tickSize(3).tickSizeOuter(0).tickPadding(3).tickFormat(d3.format("d")));
  [gx,gy].forEach(g=>{g.selectAll("text").attr("font-size",13).attr("fill","#333").attr("font-family","'Liberation Sans',sans-serif");
    g.selectAll("line").attr("stroke","#333"); g.select(".domain").attr("stroke","#333").attr("stroke-width",1.3);});
  gx.selectAll("text").text(function(){return this.textContent.replace("\u2212","-");});
  gy.selectAll("text").text(function(){return this.textContent.replace("\u2212","-");});
  if(p.title) txt(svg,p.tx,p.ty,p.title,{s:12,w:700});
  txt(svg,p.ux,p.uy,"UMAP 1",{s:10.5,w:700});
  svg.append("text").attr("transform",`translate(${p.vx},${p.vy}) rotate(-90)`).attr("text-anchor","middle").attr("dominant-baseline","central").attr("font-size",10.5).attr("font-weight",700).attr("fill","#222").text("UMAP 2");
});

// colour bars
function colorBar(id,color,stops,ticks,fmt,x0,x1,yA,yB,vA,vB,lx,fs){
  const y=d3.scaleLinear().domain([vA,vB]).range([yA,yB]);
  const grad=defs.append("linearGradient").attr("id",id).attr("x1",0).attr("x2",0).attr("y1",0).attr("y2",1);
  grad.selectAll("stop").data(stops.slice().sort((a,b)=>b-a)).enter().append("stop").attr("offset",d=>(d-vB)/(vA-vB)).attr("stop-color",d=>color(d));
  svg.append("rect").attr("x",x0).attr("y",yB).attr("width",x1-x0).attr("height",yA-yB).attr("fill",`url(#${id})`);
  const g=svg.append("g").attr("transform",`translate(${x1},0)`).call(d3.axisRight(y).tickValues(ticks).tickSize(0).tickPadding(lx-x1).tickFormat(fmt));
  g.select(".domain").remove();
  g.selectAll("text").attr("font-size",fs).attr("fill","#333").attr("font-family","'Liberation Sans',sans-serif").text(function(){return this.textContent.replace("\u2212","-");});
  svg.selectAll(null).data(ticks).enter().append("path").attr("d",d=>`M${x0},${y(d)}h2.5M${x1-2.5},${y(d)}h2.5`).attr("stroke","#fff").attr("stroke-width",.6);
}
colorBar("gradV",vistaColor,[0,3,6,9,12],vistaTicks,d3.format("d"),331,343.3,542,480.7,0,12.5,349,8.5);
colorBar("gradP",pdlColor,[0,2.35,4.7,7,9.4],pdlTicks,d3.format(".1f"),707.3,719.3,538.5,475,0,9.5,725.3,9);

// legends
const groupNames=["LFR","SFR"];
function legend(xd,xt,ys){
  groupNames.forEach((n,i)=>{
    svg.append("circle").attr("cx",xd).attr("cy",ys[i]).attr("r",5).attr("fill",groupColor(n==="LFR"?"L":"S"));
    txt(svg,xt,ys[i],n,{a:"start",s:14,c:"#333"});
  });
}
legend(319,336.7,[746.7,765.7]);
legend(735.7,753,[721.7,741]);

// ---------- heatmap
const heatCols=d3.scaleLinear().domain([-2.5,-1,0,1,2.5]).range(["#FF00FF","#5A005A","#000000","#5A5A00","#FFFF00"]);
const rowY=d3.scaleBand().domain(genes).range([699.3,918.3]);
const colL=d3.scaleBand().domain(d3.range(heatLFR[0].length)).range([441,594]);
const colS=d3.scaleBand().domain(d3.range(heatSFR[0].length)).range([595,709.3]);
const hg=svg.append("g").attr("filter","url(#heatSoft)");
function heat(rows,col){
  rows.forEach((r,i)=>{
    hg.selectAll(null).data(r).enter().append("rect").attr("x",(d,j)=>col(j)).attr("y",rowY(genes[i]))
      .attr("width",col.bandwidth()+.3).attr("height",rowY.bandwidth()+.4).attr("fill",d=>heatCols(d));
  });
}
heat(heatLFR,colL); heat(heatSFR,colS);
svg.append("rect").attr("x",441).attr("y",688.3).attr("width",153).attr("height",6).attr("fill",RED);
svg.append("rect").attr("x",594).attr("y",688.3).attr("width",115.3).attr("height",6).attr("fill",BLUE);
txt(svg,522,678,"LFR",{s:11,c:"#333"}); txt(svg,651,678,"SFR",{s:11,c:"#333"});
const gGenes=svg.append("g").attr("transform","translate(441,0)").call(d3.axisLeft(rowY).tickSize(0).tickPadding(6));
gGenes.select(".domain").remove();
gGenes.selectAll("text").attr("font-size",8.5).attr("fill","#666").attr("font-family","'Liberation Sans',sans-serif");
txt(svg,726.7,797,"Expression",{a:"start",s:9.5,c:"#333"});
colorBar("gradH",heatCols,[-2.5,-1,0,1,2.5],heatTicks,d3.format("d"),726.7,742.7,891.7,807.3,-2.45,2.5,748,8.5);
</script></body></html>
